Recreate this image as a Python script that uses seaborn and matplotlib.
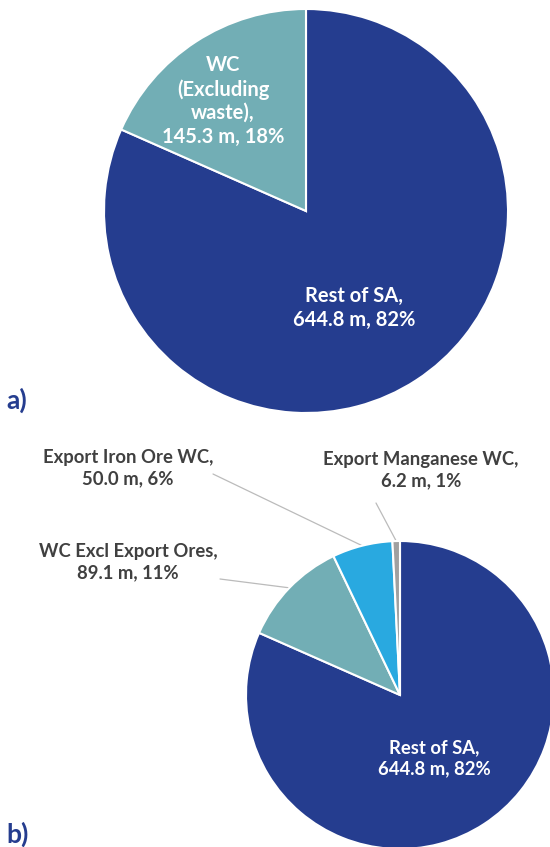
import numpy as np
import matplotlib
matplotlib.use("Agg")
import matplotlib.pyplot as plt
import seaborn as sns

# ---- data ----
top_labels = ["Rest of SA", "WC\n(Excluding\nwaste)"]
top_values = [644.8, 145.3]

bot_labels = ["Rest of SA", "WC Excl Export Ores", "Export Iron Ore WC", "Export Manganese WC"]
bot_values = [644.8, 89.1, 50.0, 6.2]

top_colors = ["#253D8F", "#72AEB5"]
bot_colors = ["#253D8F", "#72AEB5", "#29A9E0", "#A0A0A0"]

sns.set_theme(style="white")
plt.rcParams['font.family'] = ['Lato', 'DejaVu Sans']

W, H = 550, 847
fig = plt.figure(figsize=(W / 100, H / 100), dpi=100)
ax = fig.add_axes([0, 0, 1, 1])

def Y(y):
    return H - y

# ---- top pie ----
c1 = (306, Y(211)); r1 = 202
w1, _ = ax.pie(top_values, colors=top_colors, startangle=90, counterclock=False,
               center=c1, radius=r1, frame=True,
               wedgeprops=dict(edgecolor="white", linewidth=1.5))
tot1 = sum(top_values)
ax.text(223, Y(101), f"{top_labels[1]},\n{top_values[1]:.1f} m, {round(top_values[1]/tot1*100):.0f}%",
        ha="center", va="center", color="white", fontsize=14.5, fontweight="bold", linespacing=1.22)
ax.text(354, Y(308), f"{top_labels[0]},\n{top_values[0]:.1f} m, {round(top_values[0]/tot1*100):.0f}%",
        ha="center", va="center", color="white", fontsize=14.5, fontweight="bold", linespacing=1.22)
ax.text(6, Y(400), "a)", ha="left", va="center", color="#253D8F", fontsize=19, fontweight="bold")

# ---- bottom pie ----
c2 = (400, Y(695)); r2 = 154
w2, _ = ax.pie(bot_values, colors=bot_colors, startangle=90, counterclock=False,
               center=c2, radius=r2, frame=True,
               wedgeprops=dict(edgecolor="white", linewidth=1.5))
tot2 = sum(bot_values)

def lab(i):
    return f"{bot_labels[i]},\n{bot_values[i]:.1f} m, {round(bot_values[i]/tot2*100):.0f}%"

gray = "#404040"
# label positions (pixel coordinates) and leader line starts
label_pos = {1: (128, 562), 2: (128, 468), 3: (421, 470)}
leader_start = {1: (220, 579), 2: (213, 474), 3: (376, 503)}
for i, (lx, ly) in label_pos.items():
    ax.text(lx, Y(ly), lab(i), ha="center", va="center", color=gray,
            fontsize=13.3, fontweight="bold", linespacing=1.25)
    wdg = w2[i]
    ang = np.deg2rad((wdg.theta1 + wdg.theta2) / 2)
    ex = c2[0] + r2 * np.cos(ang)
    ey = c2[1] + r2 * np.sin(ang)
    sx, sy = leader_start[i]
    ax.plot([sx, ex], [Y(sy), ey], color="#BBBBBB", linewidth=0.9, zorder=0)

ax.text(434, Y(758), lab(0), ha="center", va="center", color="white",
        fontsize=13.3, fontweight="bold", linespacing=1.25)
ax.text(6, Y(834), "b)", ha="left", va="center", color="#253D8F", fontsize=19, fontweight="bold")

ax.set_xlim(0, W)
ax.set_ylim(0, H)
ax.set_aspect("auto")
ax.axis("off")

fig.savefig("out.png", dpi=100, facecolor="white")
